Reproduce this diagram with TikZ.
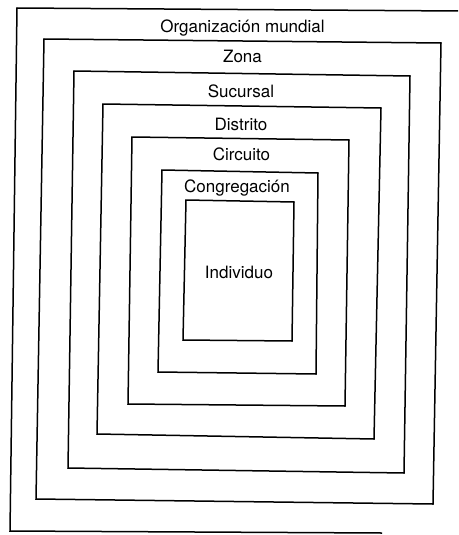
\documentclass[tikz,border=0pt]{standalone}
\usepackage{fontspec}
\setmainfont{TeX Gyre Heros}
\begin{document}
\begin{tikzpicture}[x=1pt,y=-1pt,
  frame/.style={draw=black,line width=1.5pt,line join=miter},
  lbl/.style={inner sep=0pt,anchor=base,font=\fontsize{17}{20}\selectfont}]
\useasboundingbox (0,0) rectangle (458,535);
% outer (partly cropped)
\draw[frame] (458,11) -- (17,8) -- (10,531) -- (382,533);
\draw[frame] (44,39) -- (441,43) -- (433,504) -- (36,499) -- cycle;
\draw[frame] (74,71) -- (410,76) -- (404,473) -- (68,468) -- cycle;
\draw[frame] (103,104) -- (381,108) -- (374,439) -- (97,434) -- cycle;
\draw[frame] (132,137) -- (349,140) -- (345,406) -- (128,404) -- cycle;
\draw[frame] (162,170) -- (318,173) -- (316,374) -- (158,372) -- cycle;
\draw[frame] (186,200) -- (294,202) -- (292,341) -- (183,340) -- cycle;
\node[lbl] (org) at (242.5,33) {Organización mundial};
\node[lbl] (zona) at (242.5,63) {Zona};
\node[lbl] (suc) at (241,97) {Sucursal};
\node[lbl] (dist) at (241,130) {Distrito};
\node[lbl] (circ) at (241.5,160) {Circuito};
\node[lbl] (cong) at (237,192) {Congregación};
\node[lbl] (ind) at (239,278) {Individuo};
\end{tikzpicture}
\end{document}
